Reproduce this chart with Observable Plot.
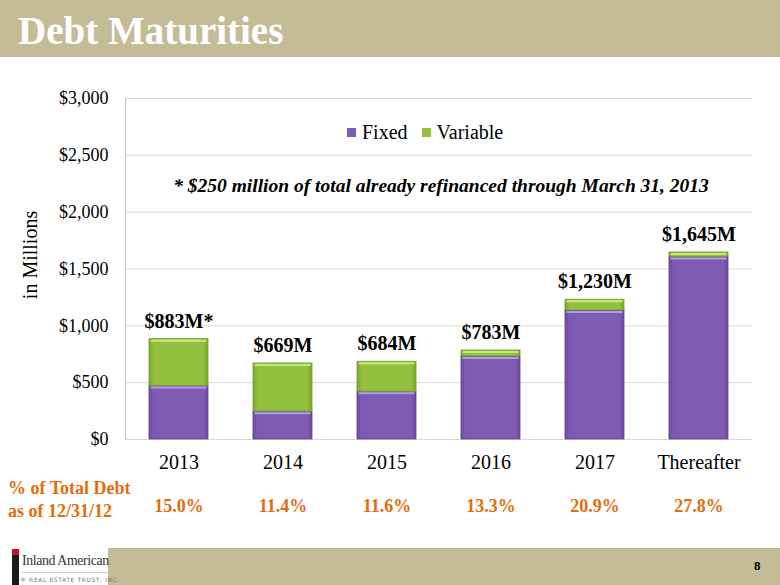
<!DOCTYPE html>
<html>
<head>
<meta charset="utf-8">
<script src="https://cdn.jsdelivr.net/npm/d3@7"></script>
<script src="https://cdn.jsdelivr.net/npm/@observablehq/plot@0.6"></script>
<style>
  html, body { margin: 0; padding: 0; background: #fff; }
  #page { position: relative; width: 780px; height: 585px; overflow: hidden; background: #fff;
          font-family: "Liberation Serif", "Times New Roman", serif; }
  .abs { position: absolute; white-space: nowrap; font-family: "Liberation Serif", "Times New Roman", serif; }
  #titlebar { left: 0; top: 0; width: 780px; height: 57px; background: #C4BC96; }
  #title { left: 18px; top: 11px; font-size: 39px; line-height: 1; font-weight: bold; color: #fff; }
  #chart { left: 0; top: 0; }
  #legend { left: 347px; top: 121px; height: 22px; display: flex; align-items: center; font-size: 20px; line-height: 22px; color: #000; }
  #legend .sw { width: 9px; height: 9px; display: inline-block; margin-right: 6px; }
  #note { left: 441px; top: 175px; transform: translateX(-50%); font-size: 19.5px; line-height: 22px; font-weight: bold; font-style: italic; color: #000; }
  #ylabel { left: 30px; top: 255px; transform: translate(-50%, -50%) rotate(-90deg); font-size: 20px; line-height: 20px; color: #000; }
  .orange { color: #E46C0A; font-weight: bold; font-size: 18px; line-height: 18px; left: 8px; }
  #footbar { left: 108px; top: 548px; width: 672px; height: 37px; background: #C4BC96; }
  #pagenum { left: 754px; top: 559px; font-size: 13px; line-height: 14px; font-weight: bold; color: #000; }
  #logostrip { left: 12px; top: 549px; width: 7px; height: 36px; background: #1a1a1a; }
  #logored { left: 12px; top: 549px; width: 7px; height: 6px; background: #c8102e; }
  #logoname { left: 22px; top: 552px; font-size: 15px; line-height: 16px; color: #333; letter-spacing: -0.4px; transform: scaleX(0.92); transform-origin: left center; }
  #logoline { left: 22px; top: 572px; width: 86px; height: 1px; background: #d9c9c9; }
  #logosub { left: 20px; top: 576px; font-family: "DejaVu Sans", sans-serif; font-size: 6px; line-height: 7px; color: #777; letter-spacing: 0.6px; }
</style>
</head>
<body>
<div id="page">
  <div id="titlebar" class="abs"></div>
  <div id="title" class="abs">Debt Maturities</div>
  <div id="chart" class="abs"></div>
  <div id="legend" class="abs"></div>
  <div id="note" class="abs">* $250 million of total already refinanced through March 31, 2013</div>
  <div id="ylabel" class="abs">in Millions</div>
  <div class="abs orange" style="top:479px">% of Total Debt</div>
  <div class="abs orange" style="top:502px">as of 12/31/12</div>
  <div id="footbar" class="abs"></div>
  <div id="pagenum" class="abs">8</div>
  <div id="logostrip" class="abs"></div>
  <div id="logored" class="abs"></div>
  <div id="logoname" class="abs">Inland American</div>
  <div id="logoline" class="abs"></div>
  <div id="logosub" class="abs">® REAL ESTATE TRUST, INC.</div>
</div>
<script>
// ---- data ----
const years = ["2013", "2014", "2015", "2016", "2017", "Thereafter"];
const series = ["Fixed", "Variable"];
const fixedValues = [470, 245, 420, 730, 1135, 1605];
const variableValues = [413, 424, 264, 53, 95, 40];
const totals = [883, 669, 684, 783, 1230, 1645];
const totalLabels = ["$883M*", "$669M", "$684M", "$783M", "$1,230M", "$1,645M"];
const pctLabels = ["15.0%", "11.4%", "11.6%", "13.3%", "20.9%", "27.8%"];
const yTicks = [0, 500, 1000, 1500, 2000, 2500, 3000];
const seriesColors = ["#7E5CB2", "#93C13F"];

// tables built from the arrays
const rows = [];
years.forEach((y, i) => {
  rows.push({year: y, series: "Fixed", value: fixedValues[i]});
  rows.push({year: y, series: "Variable", value: variableValues[i]});
});
const yearRows = years.map((y, i) => ({year: y, total: totals[i], label: totalLabels[i], pct: pctLabels[i]}));

const fmt = d3.format(",");
const chart = Plot.plot({
  width: 780,
  height: 530,
  marginLeft: 125,
  marginRight: 28,
  marginTop: 98,
  marginBottom: 91,
  style: {fontFamily: '"Liberation Serif", "Times New Roman", serif', background: "transparent", color: "#000"},
  x: {domain: years, paddingInner: 0.43, paddingOuter: 0.215, axis: null},
  y: {domain: [0, 3000], axis: null},
  color: {domain: series, range: ["url(#gFixed)", "url(#gVar)"]},
  marks: [
    Plot.ruleY(yTicks, {stroke: "#d9d9d9", strokeWidth: 1}),
    Plot.frame({anchor: "left", stroke: "#bfbfbf"}),
    Plot.barY(rows, {x: "year", y: "value", fill: "series", stroke: {value: d => d.series === "Fixed" ? "#5f4290" : "#6f9a2c", scale: null}, strokeWidth: 0.8}),
    Plot.tickY(rows, Plot.stackY2({x: "year", y: "value", dy: 1.5, inset: 1.5, strokeWidth: 2,
      stroke: {value: d => d.series === "Fixed" ? "#b39ce3" : "#c6ea82", scale: null}})),
    Plot.axisY({ticks: yTicks, tickSize: 0, tickPadding: 17, fontSize: 18, label: null,
      tickFormat: d => "$" + fmt(d)}),
    Plot.axisX({tickSize: 0, tickPadding: 15, fontSize: 20, label: null}),
    Plot.text(yearRows, {x: "year", y: "total", text: "label", dy: -18, fontSize: 20, fontWeight: "bold", fill: "#000"}),
    Plot.text(yearRows, {x: "year", frameAnchor: "bottom", text: "pct", dy: 72, fontSize: 18, fontWeight: "bold", fill: "#E46C0A"})
  ]
});

// gradients for a slight bevelled look
const ns = "http://www.w3.org/2000/svg";
const defs = document.createElementNS(ns, "defs");
function grad(id, edge, mid) {
  const g = document.createElementNS(ns, "linearGradient");
  g.setAttribute("id", id);
  g.setAttribute("x1", "0"); g.setAttribute("x2", "1"); g.setAttribute("y1", "0"); g.setAttribute("y2", "0");
  [[0, edge], [0.08, mid], [0.92, mid], [1, edge]].forEach(([o, c]) => {
    const s = document.createElementNS(ns, "stop");
    s.setAttribute("offset", o); s.setAttribute("stop-color", c);
    g.appendChild(s);
  });
  defs.appendChild(g);
}
grad("gFixed", "#6a4b9e", seriesColors[0]);
grad("gVar", "#7ea532", seriesColors[1]);
chart.insertBefore(defs, chart.firstChild);
document.getElementById("chart").appendChild(chart);

// legend
const legend = document.getElementById("legend");
series.forEach((s, i) => {
  const item = document.createElement("span");
  item.style.display = "inline-flex";
  item.style.alignItems = "center";
  item.style.marginRight = i === 0 ? "14px" : "0";
  const sw = document.createElement("span");
  sw.className = "sw";
  sw.style.background = seriesColors[i];
  item.appendChild(sw);
  item.appendChild(document.createTextNode(s));
  legend.appendChild(item);
});
</script>
</body>
</html>
